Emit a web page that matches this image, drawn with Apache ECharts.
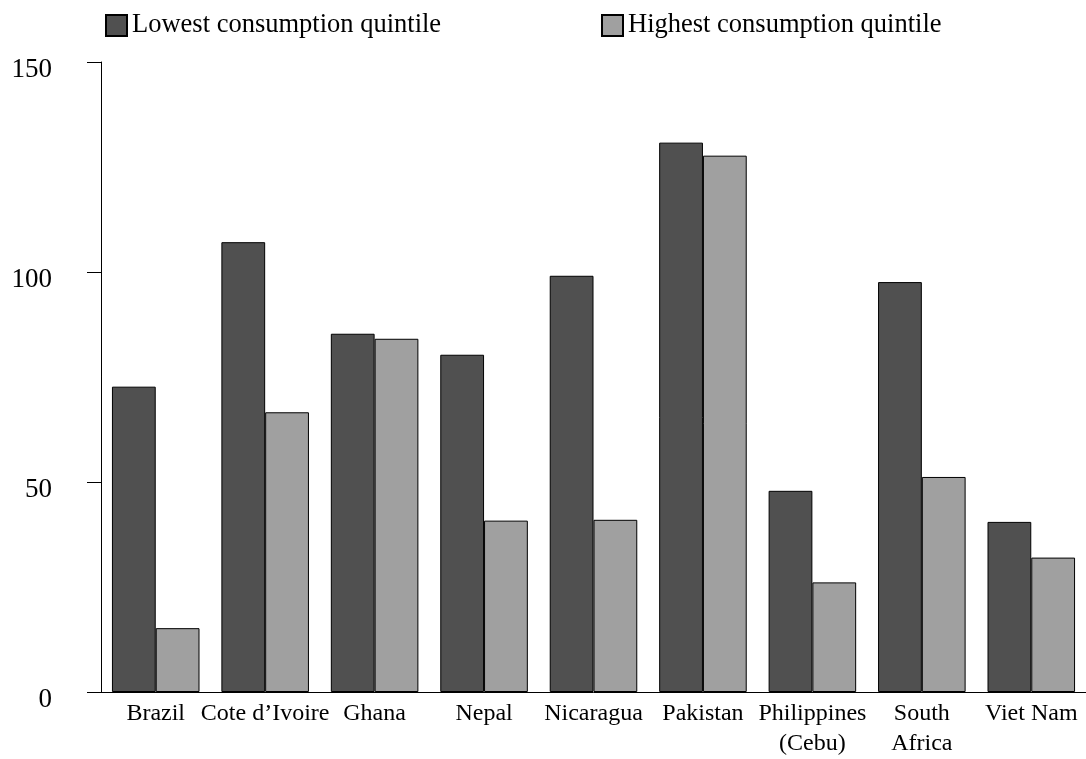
<!DOCTYPE html>
<html>
<head>
<meta charset="utf-8">
<script src="https://cdn.jsdelivr.net/npm/echarts@6/dist/echarts.min.js"></script>
<style>
  html, body { margin: 0; padding: 0; background: #fff; }
  #chart { width: 1086px; height: 759px; }
</style>
</head>
<body>
<div id="chart"></div>
<script>
// data
const countries = ['Brazil', 'Cote d\u2019Ivoire', 'Ghana', 'Nepal', 'Nicaragua', 'Pakistan', 'Philippines\n(Cebu)', 'South\nAfrica', 'Viet Nam'];
const lowestQuintile = [72.7, 107.1, 85.3, 80.3, 99.1, 130.8, 47.9, 97.6, 40.5];
const highestQuintile = [15.2, 66.6, 84.1, 40.8, 41.0, 127.7, 26.1, 51.2, 32.0];
const yTicks = [0, 50, 100, 150];

const font = '"Liberation Serif", "Times New Roman", serif';

const chart = echarts.init(document.getElementById('chart'));

const option = {
  backgroundColor: '#fff',
  animation: false,
  textStyle: { fontFamily: font, color: '#000' },
  legend: [
    {
      data: ['Lowest consumption quintile'],
      left: 100, top: 7,
      icon: 'rect',
      itemWidth: 21, itemHeight: 21, itemGap: 8,
      textStyle: { fontFamily: font, fontSize: 26.5, color: '#000' }
    },
    {
      data: ['Highest consumption quintile'],
      left: 596, top: 7,
      icon: 'rect',
      itemWidth: 21, itemHeight: 21, itemGap: 8,
      textStyle: { fontFamily: font, fontSize: 26.5, color: '#000' }
    }
  ],
  grid: { left: 101, top: 62, width: 990, height: 633, containLabel: false },
  xAxis: {
    type: 'category',
    data: countries,
    axisLine: { lineStyle: { color: '#000', width: 1 } },
    axisTick: { show: false },
    axisLabel: {
      fontFamily: font, fontSize: 24, color: '#000',
      margin: 7, lineHeight: 30, interval: 0
    }
  },
  yAxis: {
    type: 'value',
    min: yTicks[0],
    max: yTicks[yTicks.length - 1],
    interval: 50,
    splitLine: { show: false },
    axisLine: { show: true, lineStyle: { color: '#000', width: 1 } },
    axisTick: { show: true, length: 14, lineStyle: { color: '#000' } },
    axisLabel: {
      fontFamily: font, fontSize: 27, color: '#000',
      margin: 49, verticalAlign: 'top', lineHeight: 16
    }
  },
  series: [
    {
      name: 'Lowest consumption quintile',
      type: 'bar',
      data: lowestQuintile,
      barGap: '0%',
      barCategoryGap: '20%',
      itemStyle: { color: '#505050', borderColor: '#000', borderWidth: 1 }
    },
    {
      name: 'Highest consumption quintile',
      type: 'bar',
      data: highestQuintile,
      itemStyle: { color: '#a0a0a0', borderColor: '#000', borderWidth: 1 }
    }
  ]
};

chart.setOption(option);
</script>
</body>
</html>
